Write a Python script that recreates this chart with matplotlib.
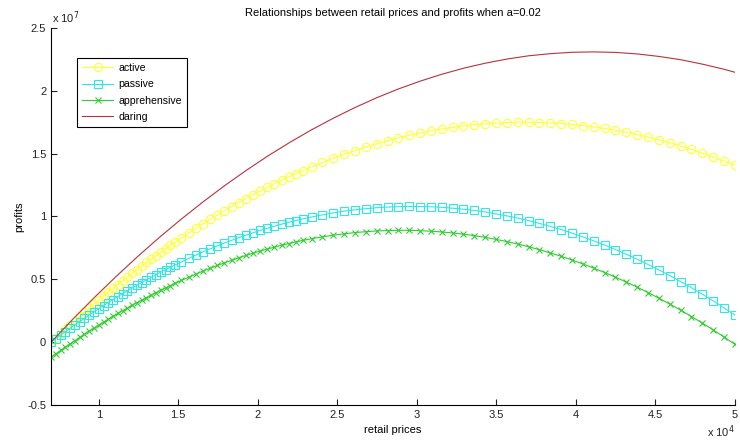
import matplotlib.pyplot as plt
from matplotlib.ticker import FuncFormatter

plt.rcParams['font.family'] = ['Liberation Sans', 'DejaVu Sans']
plt.rcParams['font.size'] = 8

# retail prices (sample points, denser at low prices)
prices = [7000, 7300, 7600, 7900, 8200, 8500, 8800, 9100, 9400, 9700,
          10000, 10300, 10600, 10900, 11200, 11500, 11800, 12100, 12400, 12700,
          13000, 13300, 13600, 13900, 14200, 14500, 14800,
          15200, 15650, 16100, 16550, 17000, 17450, 17900, 18350, 18800, 19250,
          19700, 20150, 20600, 21050, 21500, 21950, 22400, 22850,
          23381, 24063, 24746, 25429, 26111, 26794, 27476, 28159, 28841, 29524,
          30206, 30889, 31571, 32254, 32937, 33619, 34302, 34984, 35667, 36349,
          37032, 37714, 38397, 39079, 39762, 40444, 41127, 41810, 42492, 43175,
          43857, 44540, 45222, 45905, 46587, 47270, 47952, 48635, 49317, 50000]

# profits, in units of 1e7
active = [0.000, 0.035, 0.069, 0.104, 0.138, 0.171, 0.205, 0.238, 0.270, 0.303,
          0.334, 0.366, 0.397, 0.428, 0.458, 0.488, 0.518, 0.548, 0.577, 0.605,
          0.634, 0.662, 0.689, 0.716, 0.743, 0.770, 0.796,
          0.830, 0.868, 0.905, 0.942, 0.977, 1.012, 1.046, 1.079, 1.111, 1.143,
          1.174, 1.204, 1.233, 1.261, 1.289, 1.315, 1.341, 1.366,
          1.395, 1.430, 1.464, 1.495, 1.525, 1.553, 1.579, 1.603, 1.625, 1.646,
          1.664, 1.681, 1.696, 1.709, 1.721, 1.730, 1.738, 1.744, 1.748, 1.750,
          1.750, 1.748, 1.745, 1.740, 1.733, 1.724, 1.713, 1.701, 1.686, 1.670,
          1.652, 1.632, 1.610, 1.587, 1.561, 1.534, 1.505, 1.474, 1.441, 1.407]
passive = [0.000, 0.028, 0.056, 0.084, 0.111, 0.138, 0.164, 0.191, 0.216, 0.242,
           0.267, 0.291, 0.315, 0.339, 0.363, 0.386, 0.408, 0.431, 0.453, 0.474,
           0.495, 0.516, 0.537, 0.557, 0.576, 0.596, 0.615,
           0.639, 0.666, 0.692, 0.718, 0.742, 0.766, 0.788, 0.810, 0.831, 0.851,
           0.870, 0.889, 0.906, 0.923, 0.939, 0.954, 0.968, 0.982,
           0.996, 1.013, 1.029, 1.042, 1.053, 1.062, 1.070, 1.075, 1.078, 1.080,
           1.079, 1.077, 1.073, 1.066, 1.058, 1.048, 1.036, 1.021, 1.005, 0.987,
           0.967, 0.945, 0.921, 0.896, 0.868, 0.838, 0.806, 0.773, 0.737, 0.699,
           0.660, 0.618, 0.575, 0.530, 0.482, 0.433, 0.382, 0.329, 0.273, 0.216]
apprehensive = [-0.120, -0.093, -0.066, -0.040, -0.013, 0.012, 0.038, 0.063, 0.088, 0.112,
                0.136, 0.159, 0.182, 0.205, 0.228, 0.250, 0.271, 0.293, 0.314, 0.334,
                0.354, 0.374, 0.394, 0.413, 0.431, 0.450, 0.468,
                0.491, 0.516, 0.541, 0.565, 0.588, 0.610, 0.631, 0.651, 0.671, 0.690,
                0.708, 0.725, 0.741, 0.756, 0.771, 0.785, 0.798, 0.810,
                0.823, 0.838, 0.851, 0.862, 0.872, 0.879, 0.885, 0.888, 0.890, 0.890,
                0.887, 0.883, 0.877, 0.869, 0.859, 0.847, 0.834, 0.818, 0.800, 0.781,
                0.759, 0.736, 0.710, 0.683, 0.654, 0.622, 0.589, 0.554, 0.517, 0.478,
                0.438, 0.395, 0.350, 0.303, 0.255, 0.204, 0.152, 0.098, 0.041, -0.017]

daring_prices = [7000, 8365, 9730, 11095, 12460, 13825, 15190, 16556, 17921, 19286,
                 20651, 22016, 23381, 24746, 26111, 27476, 28841, 30206, 31571, 32937,
                 34302, 35667, 37032, 38397, 39762, 41127, 42492, 43857, 45222, 46587,
                 47952, 49317, 50000]
daring = [0.000, 0.182, 0.356, 0.523, 0.683, 0.835, 0.979, 1.116, 1.246, 1.368,
          1.483, 1.590, 1.690, 1.782, 1.867, 1.945, 2.015, 2.077, 2.132, 2.180,
          2.220, 2.253, 2.279, 2.296, 2.307, 2.310, 2.306, 2.294, 2.274, 2.248,
          2.213, 2.172, 2.148]

scale = 1e7

fig = plt.figure(figsize=(7.4, 4.45), dpi=100)
ax = fig.add_axes([0.069, 0.09, 0.924, 0.847])

ax.plot(prices, [v * scale for v in active], color='#ffff33', lw=0.8,
        marker='o', ms=6, mfc='none', mew=0.8, label='active')
ax.plot(prices, [v * scale for v in passive], color='#33e6e6', lw=0.8,
        marker='s', ms=6, mfc='none', mew=0.8, label='passive')
ax.plot(prices, [v * scale for v in apprehensive], color='#33cc33', lw=0.8,
        marker='x', ms=4, mew=0.8, label='apprehensive')
ax.plot(daring_prices, [v * scale for v in daring], color='#b8323c', lw=0.8,
        label='daring')

ax.set_xlim(7000, 50000)
ax.set_ylim(-0.5e7, 2.5e7)
ax.set_xticks([10000, 15000, 20000, 25000, 30000, 35000, 40000, 45000, 50000])
ax.set_yticks([-0.5e7, 0, 0.5e7, 1e7, 1.5e7, 2e7, 2.5e7])
ax.xaxis.set_major_formatter(FuncFormatter(lambda v, p: '%g' % (v / 1e4)))
ax.yaxis.set_major_formatter(FuncFormatter(lambda v, p: '%g' % (v / 1e7)))
ax.tick_params(direction='in', length=4, width=0.8, colors='#222222', labelsize=8)
ax.spines['top'].set_visible(False)
ax.spines['right'].set_visible(False)

ax.text(0.002, 1.005, r'x 10$^7$', transform=ax.transAxes, fontsize=8,
        ha='left', va='bottom', color='#222222')
ax.text(1.0, -0.072, r'x 10$^4$', transform=ax.transAxes, fontsize=8,
        ha='right', va='center', color='#222222')

ax.set_title('Relationships between retail prices and profits when a=0.02',
             fontsize=8, pad=9)
ax.set_xlabel('retail prices', fontsize=8, labelpad=4)
ax.set_ylabel('profits', fontsize=8, labelpad=2)

leg = ax.legend(loc='upper left', bbox_to_anchor=(0.038, 0.92), fontsize=7.6,
                fancybox=False, edgecolor='black', framealpha=1,
                borderaxespad=0, handlelength=3.0, handletextpad=0.5,
                labelspacing=0.6, borderpad=0.45)
leg.get_frame().set_linewidth(0.8)

fig.savefig('out.png', dpi=100)
